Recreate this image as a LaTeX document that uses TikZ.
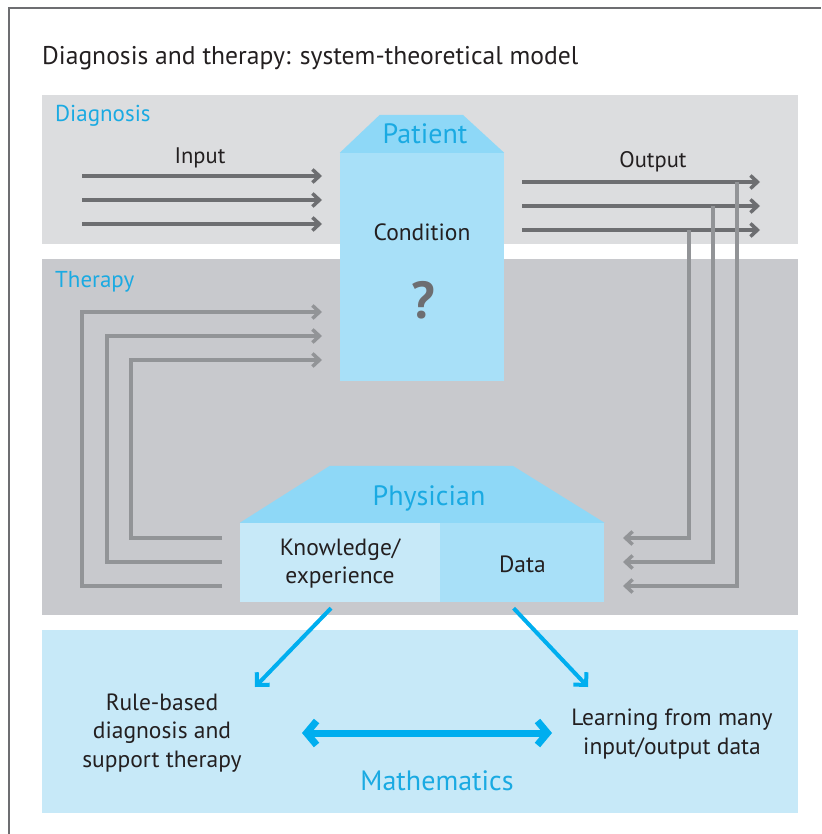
\documentclass[tikz,border=0pt]{standalone}
\usepackage{fontspec}
\setmainfont{PT Sans}
\usetikzlibrary{arrows.meta,positioning}

\definecolor{bandlight}{HTML}{DCDDDF}
\definecolor{banddark}{HTML}{C8C9CD}
\definecolor{bandblue}{HTML}{C7E9F8}
\definecolor{boxblue}{HTML}{A8E0F8}
\definecolor{roofblue}{HTML}{8ED8F7}
\definecolor{labelblue}{HTML}{1AAAE2}
\definecolor{arrowblue}{HTML}{00AEEF}
\definecolor{wiredark}{HTML}{6D6E71}
\definecolor{wirelight}{HTML}{929497}
\definecolor{textdark}{HTML}{231F20}
\definecolor{framegray}{HTML}{6D6E71}

\tikzset{
    txt/.style={font=\fontsize{23.5}{28.5}\selectfont, text=textdark, align=center, inner sep=0pt},
    iolabel/.style={font=\fontsize{22.5}{26}\selectfont, text=textdark, inner sep=0pt},
    bandlabel/.style={font=\fontsize{23}{26}\selectfont, text=labelblue, anchor=west, inner sep=0pt},
    rooflabel/.style={font=\fontsize{28}{30}\selectfont, text=labelblue, inner sep=0pt},
    wire/.style={line width=3.5pt, draw=#1, -{Straight Barb[length=7pt,width=13pt]}},
    bluearrow/.style={line width=4pt, draw=arrowblue, -{Straight Barb[length=9pt,width=18pt]}},
}

\begin{document}
\begin{tikzpicture}[x=1pt, y=-1pt]
    \useasboundingbox (0,0) rectangle (821,834);

    % Frame and title
    \draw[framegray, line width=1.2pt] (9,834) -- (9,8) -- (821,8);
    \node[font=\fontsize{25.6}{30}\selectfont, text=textdark, anchor=base west, inner sep=0pt] (title) at (42,65)
        {Diagnosis and therapy: system-theoretical model};

    % Bands
    \fill[bandlight] (42,95) rectangle (798,244);
    \fill[banddark] (42,259) rectangle (798,615);
    \fill[bandblue] (42,630) rectangle (798,813);
    \node[bandlabel] (diaglabel) at (55,116) {Diagnosis};
    \node[bandlabel] (therlabel) at (55,282) {Therapy};

    % Patient
    \node[fill=boxblue, minimum width=164pt, minimum height=228pt, inner sep=0pt] (patient) at (422,267) {};
    \fill[roofblue] (patient.north west) -- ++(40,-38) -- ++(83,0) -- (patient.north east) -- cycle;
    \node[rooflabel] (patientlabel) at (425,134) {Patient};
    \node[txt] (condition) at (422,232) {Condition};
    \node[font=\fontsize{52}{52}\selectfont\bfseries, text=wiredark, inner sep=0pt] (unknown) at (423,300) {?};

    % Physician
    \node[fill=bandblue, minimum width=200pt, minimum height=79pt, inner sep=0pt] (knowledge) at (340,562.5) {};
    \node[fill=boxblue, minimum width=164pt, minimum height=79pt, inner sep=0pt, right=0pt of knowledge] (data) {};
    \fill[roofblue] (knowledge.north west) -- ++(90,-57) -- ++(183,0) -- (data.north east) -- cycle;
    \node[rooflabel] (physicianlabel) at (429,498) {Physician};
    \node[txt] at ([yshift=-1pt]knowledge.center) {Knowledge/\\experience};
    \node[txt] at ([yshift=-2pt]data.center) {Data};

    % Input and output
    \node[iolabel] (inputlabel) at (200,158) {Input};
    \node[iolabel] (outputlabel) at (653,162) {Output};
    \foreach \i/\y in {1/176,2/200,3/224} {
        \coordinate (in\i) at (82,\y);
        \coordinate (inend\i) at (322,\y);
        \draw[wire=wiredark] (in\i) -- (inend\i);
    }
    \foreach \i/\y in {1/182,2/206,3/230} {
        \coordinate (out\i) at (522,\y);
        \coordinate (outend\i) at (760,\y);
        \draw[wire=wiredark] (out\i) -- (outend\i);
    }

    % Feedback to the physician
    \foreach \i/\x/\t/\y in {1/737/182/586,2/713/206/562,3/689/230/538} {
        \coordinate (fb\i) at (\x,\t);
        \coordinate (fbend\i) at (623,\y);
        \draw[wire=wirelight] (fb\i) |- (fbend\i);
    }

    % Therapy back to the patient
    \foreach \i/\x/\y/\t in {1/82/586/312,2/107/562/336,3/131/538/360} {
        \coordinate (th\i) at (222,\y);
        \coordinate (thend\i) at (322,\t);
        \draw[wire=wirelight] (th\i) -- (\x,\y) |- (thend\i);
    }

    % Mathematics
    \node[txt] (rules) at (162,733) {Rule-based\\diagnosis and\\support therapy};
    \node[txt] (learning) at (672,734) {Learning from many\\input/output data};
    \node[rooflabel] (maths) at (437,781) {Mathematics};
    \coordinate (ruletip) at (255,687);
    \coordinate (learntip) at (588,687);
    \draw[bluearrow] ([xshift=-9pt,yshift=-6pt]knowledge.south) -- (ruletip);
    \draw[bluearrow] ([xshift=-91pt,yshift=-6pt]data.south east) -- (learntip);
    \coordinate (mleft) at (302,733);
    \coordinate (mright) at (552,733);
    \draw[line width=7pt, draw=arrowblue, {Straight Barb[length=10pt,width=24pt]}-{Straight Barb[length=10pt,width=24pt]}] (mleft) -- (mright);
\end{tikzpicture}
\end{document}
